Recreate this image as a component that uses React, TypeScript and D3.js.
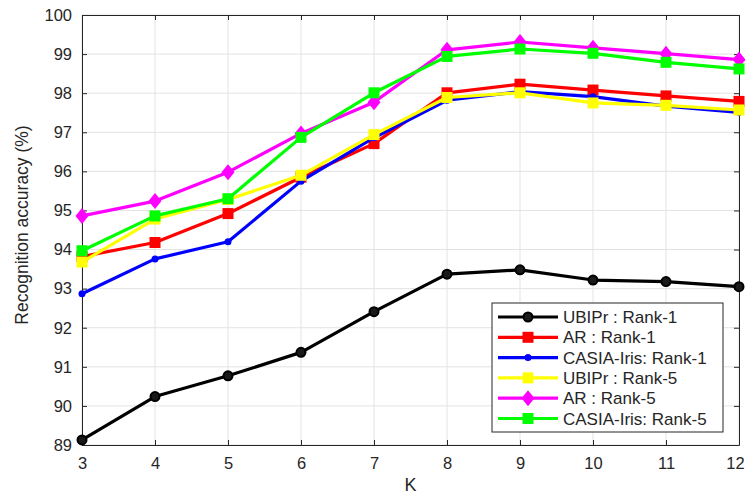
import React, { useRef, useEffect } from 'react';
import * as d3 from 'd3';

const kValues = [3, 4, 5, 6, 7, 8, 9, 10, 11, 12];
const yTicks = [89, 90, 91, 92, 93, 94, 95, 96, 97, 98, 99, 100];

const ubiprRank1 = [89.13, 90.24, 90.77, 91.37, 92.41, 93.37, 93.48, 93.22, 93.18, 93.05];
const arRank1 = [93.82, 94.18, 94.92, 95.85, 96.71, 98.01, 98.23, 98.08, 97.93, 97.79];
const casiaRank1 = [92.87, 93.76, 94.2, 95.75, 96.86, 97.82, 98.04, 97.91, 97.67, 97.51];
const ubiprRank5 = [93.68, 94.78, 95.28, 95.9, 96.94, 97.89, 98.01, 97.75, 97.69, 97.57];
const arRank5 = [94.86, 95.24, 95.98, 96.97, 97.77, 99.11, 99.31, 99.16, 99.01, 98.86];
const casiaRank5 = [93.97, 94.86, 95.3, 96.87, 98.01, 98.94, 99.13, 99.02, 98.79, 98.62];

const seriesNames = [
  'UBIPr : Rank-1',
  'AR : Rank-1',
  'CASIA-Iris: Rank-1',
  'UBIPr : Rank-5',
  'AR : Rank-5',
  'CASIA-Iris: Rank-5',
];

const App = () => {
  const chartRef = useRef<SVGSVGElement>(null);
  const W = 745;
  const H = 494;
  const margin = { top: 15, right: 6, bottom: 49, left: 82 };
  const width = W - margin.left - margin.right;
  const height = H - margin.top - margin.bottom;

  useEffect(() => {
    const root = d3.select(chartRef.current);
    root.selectAll('*').remove();
    const font = 'Liberation Sans, Arial, sans-serif';

    const svg = root.append('g').attr('transform', `translate(${margin.left},${margin.top})`);

    const x = d3.scaleLinear().domain([3, 12]).range([0, width]);
    const y = d3.scaleLinear().domain([89, 100]).range([height, 0]);

    // grid
    svg.append('g')
      .selectAll('line')
      .data(kValues)
      .join('line')
      .attr('x1', d => x(d)).attr('x2', d => x(d))
      .attr('y1', 0).attr('y2', height)
      .attr('stroke', '#e3e3e3').attr('stroke-width', 1);
    svg.append('g')
      .selectAll('line')
      .data(yTicks)
      .join('line')
      .attr('x1', 0).attr('x2', width)
      .attr('y1', d => y(d)).attr('y2', d => y(d))
      .attr('stroke', '#e3e3e3').attr('stroke-width', 1);

    // axes, ticks pointing inside like matlab
    const styleAxis = (g: any) => {
      g.selectAll('path').attr('stroke', '#262626');
      g.selectAll('line').attr('stroke', '#262626');
      g.selectAll('text')
        .attr('fill', '#262626')
        .style('font-family', font)
        .style('font-size', '16.5px');
    };

    const xAxis = svg.append('g')
      .attr('transform', `translate(0,${height})`)
      .call(d3.axisBottom(x).tickValues(kValues).tickFormat(d3.format('d')).tickSizeInner(-5).tickSizeOuter(0).tickPadding(12))
      .call(styleAxis);
    // last label sits on the edge; nudge it so it stays inside
    xAxis.selectAll('text').filter((d: any) => d === 12).attr('dx', '-4');

    svg.append('g')
      .call(d3.axisTop(x).tickValues(kValues).tickFormat(() => '').tickSizeInner(-5).tickSizeOuter(0))
      .call(styleAxis);
    svg.append('g')
      .call(d3.axisLeft(y).tickValues(yTicks).tickFormat(d3.format('d')).tickSizeInner(-5).tickSizeOuter(0).tickPadding(10))
      .call(styleAxis);
    svg.append('g')
      .attr('transform', `translate(${width},0)`)
      .call(d3.axisRight(y).tickValues(yTicks).tickFormat(() => '').tickSizeInner(-5).tickSizeOuter(0))
      .call(styleAxis);

    const series = [
      { name: seriesNames[0], values: ubiprRank1, color: '#000000', marker: 'circle' },
      { name: seriesNames[1], values: arRank1, color: '#ff0000', marker: 'square' },
      { name: seriesNames[2], values: casiaRank1, color: '#0000ff', marker: 'dot' },
      { name: seriesNames[3], values: ubiprRank5, color: '#ffff00', marker: 'square' },
      { name: seriesNames[4], values: arRank5, color: '#ff00ff', marker: 'diamond' },
      { name: seriesNames[5], values: casiaRank5, color: '#00ff00', marker: 'square' },
    ];

    const drawMarker = (g: any, type: string, cx: number, cy: number, color: string) => {
      if (type === 'circle') {
        g.append('circle').attr('cx', cx).attr('cy', cy).attr('r', 4.5)
          .attr('fill', '#1a1a1a').attr('stroke', color).attr('stroke-width', 2);
      } else if (type === 'square') {
        g.append('rect').attr('x', cx - 5.5).attr('y', cy - 5.5).attr('width', 11).attr('height', 11)
          .attr('fill', color);
      } else if (type === 'diamond') {
        g.append('path')
          .attr('d', `M${cx},${cy - 8}L${cx + 6.5},${cy}L${cx},${cy + 8}L${cx - 6.5},${cy}Z`)
          .attr('fill', color);
      } else {
        g.append('circle').attr('cx', cx).attr('cy', cy).attr('r', 3.5).attr('fill', color);
      }
    };

    const line = d3.line<number>()
      .x((_, i) => x(kValues[i]))
      .y(d => y(d));

    const plot = svg.append('g');
    series.forEach(s => {
      plot.append('path')
        .datum(s.values)
        .attr('d', line)
        .attr('fill', 'none')
        .attr('stroke', s.color)
        .attr('stroke-width', 3.2)
        .attr('stroke-linejoin', 'round');
      s.values.forEach((v, i) => drawMarker(plot, s.marker, x(kValues[i]), y(v), s.color));
    });

    // legend
    const lx = 492 - margin.left;
    const ly = 303 - margin.top;
    const legend = svg.append('g').attr('transform', `translate(${lx},${ly})`);
    legend.append('rect')
      .attr('width', 231).attr('height', 129)
      .attr('fill', '#ffffff').attr('stroke', '#262626').attr('stroke-width', 1);
    series.forEach((s, i) => {
      const cy = 14 + i * 20.3;
      legend.append('line')
        .attr('x1', 6).attr('x2', 66).attr('y1', cy).attr('y2', cy)
        .attr('stroke', s.color).attr('stroke-width', 3.2);
      drawMarker(legend, s.marker, 36, cy, s.color);
      legend.append('text')
        .attr('x', 71).attr('y', cy + 6)
        .attr('fill', '#262626')
        .style('font-family', font)
        .style('font-size', '17px')
        .text(s.name);
    });

    // axis labels
    svg.append('text')
      .attr('x', width / 2).attr('y', height + 46)
      .attr('text-anchor', 'middle')
      .attr('fill', '#262626')
      .style('font-family', font)
      .style('font-size', '18px')
      .text('K');
    svg.append('text')
      .attr('transform', `translate(${-54},${height / 2 - 5}) rotate(-90)`)
      .attr('text-anchor', 'middle')
      .attr('fill', '#262626')
      .style('font-family', font)
      .style('font-size', '17.5px')
      .text('Recognition accuracy (%)');
  }, []);

  return (
    <svg
      ref={chartRef}
      width={W}
      height={H}
      style={{ position: 'absolute', left: 0, top: 0, background: '#ffffff' }}
    />
  );
};

export default App;
